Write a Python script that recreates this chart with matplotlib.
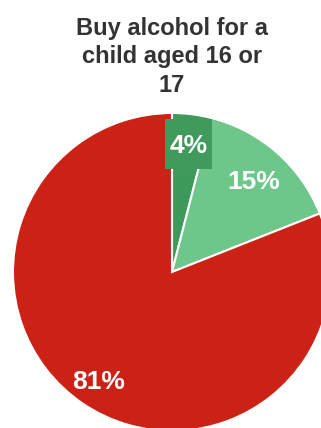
import numpy as np
import matplotlib.pyplot as plt
from matplotlib.patches import Rectangle

labels = ['Yes', 'Sometimes', 'No']
shares = [4, 15, 81]
colors = ['#3d9a5b', '#6dc68a', '#cc2216']
title = 'Buy alcohol for a\nchild aged 16 or\n17'

plt.rcParams['font.family'] = ['Liberation Sans', 'DejaVu Sans']

W, H = 321, 428
fig = plt.figure(figsize=(W / 100, H / 100), dpi=100)

# pie centre at (172, 272) px from top-left, radius 159 px
cx, cy, r = 172, 272, 159
ax = fig.add_axes([(cx - r) / W, (H - cy - r) / H, 2 * r / W, 2 * r / H])

wedges, _ = ax.pie(
    shares, colors=colors, startangle=90, counterclock=False,
    wedgeprops=dict(edgecolor='white', linewidth=1.5))
ax.set_xlim(-1, 1)
ax.set_ylim(-1, 1)
ax.axis('off')
for w in wedges:
    w.set_clip_on(False)

# percentage labels at the slice mid-angles
label_r = [0.815, 0.78, 0.82]
start = 90.0
for i, (s, rr) in enumerate(zip(shares, label_r)):
    sweep = 360.0 * s / sum(shares)
    mid = np.deg2rad(start - sweep / 2)
    start -= sweep
    x, y = rr * np.cos(mid), rr * np.sin(mid)
    if i == 0:
        ax.add_patch(Rectangle((x - 0.148, y - 0.16), 0.296, 0.314,
                               facecolor='#3f9a5c', edgecolor='none', zorder=3))
    ax.text(x, y - 0.06, f'{s}%', ha='center', va='baseline', color='white',
            fontsize=19, fontweight='bold', zorder=4)

fig.text(cx / W, 1 - 17 / H, title, ha='center', va='top', fontsize=17,
         fontweight='bold', color='#333333', linespacing=1.3)

fig.savefig('out.png', dpi=100)
